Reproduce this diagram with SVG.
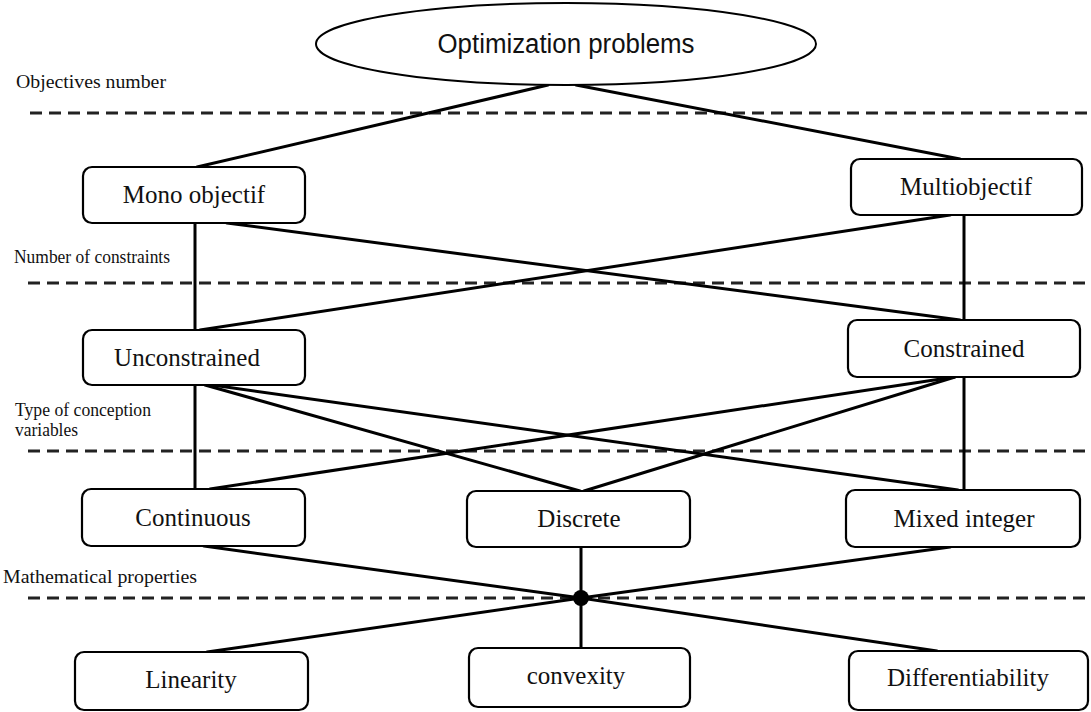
<svg xmlns="http://www.w3.org/2000/svg" width="1091" height="712" viewBox="0 0 1091 712">
<style>
.box{fill:#fff;stroke:#000;stroke-width:2.2}
.lbl{font-family:"Liberation Serif","Times New Roman",serif;font-size:25px;fill:#111;text-anchor:middle}
.side{font-family:"Liberation Serif","Times New Roman",serif;font-size:18px;fill:#111}
.dash{stroke:#222;stroke-width:3;stroke-dasharray:12 7;fill:none}
.con{stroke:#000;stroke-width:3;fill:none;stroke-linecap:round}
</style>
<rect width="1091" height="712" fill="#fff"/>
<g id="separators">
<line class="dash" x1="30" y1="113" x2="1091" y2="113"/>
<line class="dash" x1="28" y1="283" x2="1091" y2="283"/>
<line class="dash" x1="28" y1="451" x2="1091" y2="451"/>
<line class="dash" x1="28" y1="598" x2="1091" y2="598"/>
</g>
<g id="side-labels">
<text class="side" x="16" y="88" textLength="150" lengthAdjust="spacingAndGlyphs">Objectives number</text>
<text class="side" x="14" y="263" textLength="156" lengthAdjust="spacingAndGlyphs">Number of constraints</text>
<text class="side" x="15" y="416" textLength="136" lengthAdjust="spacingAndGlyphs">Type of conception</text>
<text class="side" x="15" y="436" textLength="63" lengthAdjust="spacingAndGlyphs">variables</text>
<text class="side" x="3" y="583" textLength="194" lengthAdjust="spacingAndGlyphs">Mathematical properties</text>
</g>
<g id="connectors">
<line class="con" x1="548" y1="85" x2="197" y2="167"/>
<line class="con" x1="576" y1="85" x2="960" y2="159"/>
<line class="con" x1="227" y1="223" x2="960" y2="320"/>
<line class="con" x1="200" y1="330" x2="950" y2="215"/>
<line class="con" x1="195" y1="223" x2="195" y2="330"/>
<line class="con" x1="964" y1="215" x2="964" y2="320"/>
<line class="con" x1="205" y1="385" x2="580" y2="491"/>
<line class="con" x1="212" y1="385" x2="958" y2="490"/>
<line class="con" x1="195" y1="385" x2="195" y2="489"/>
<line class="con" x1="954" y1="377" x2="210" y2="489"/>
<line class="con" x1="955" y1="377" x2="584" y2="491"/>
<line class="con" x1="964" y1="377" x2="964" y2="490"/>
<line class="con" x1="204" y1="546" x2="581" y2="598"/>
<line class="con" x1="950" y1="547" x2="581" y2="598"/>
<line class="con" x1="581" y1="547" x2="581" y2="648"/>
<line class="con" x1="581" y1="598" x2="207" y2="652"/>
<line class="con" x1="581" y1="598" x2="937" y2="651"/>
<circle cx="581" cy="598" r="8" fill="#000"/>
</g>
<g id="root">
<ellipse cx="566" cy="44" rx="250" ry="41" fill="#fff" stroke="#000" stroke-width="2"/>
<text x="566" y="53" font-family="Liberation Sans, Arial, sans-serif" font-size="27" fill="#111" text-anchor="middle" textLength="257" lengthAdjust="spacingAndGlyphs">Optimization problems</text>
</g>
<g id="mono"><rect class="box" x="83" y="167" width="222" height="56" rx="9"/><text class="lbl" x="194" y="203">Mono objectif</text></g>
<g id="multi"><rect class="box" x="851" y="159" width="231" height="56" rx="9"/><text class="lbl" x="966" y="195">Multiobjectif</text></g>
<g id="unconstrained"><rect class="box" x="83" y="330" width="222" height="55" rx="9"/><text class="lbl" x="187" y="366">Unconstrained</text></g>
<g id="constrained"><rect class="box" x="848" y="320" width="232" height="57" rx="9"/><text class="lbl" x="964" y="357">Constrained</text></g>
<g id="continuous"><rect class="box" x="82" y="489" width="223" height="57" rx="9"/><text class="lbl" x="193" y="526">Continuous</text></g>
<g id="discrete"><rect class="box" x="467" y="491" width="223" height="56" rx="9"/><text class="lbl" x="579" y="527">Discrete</text></g>
<g id="mixed"><rect class="box" x="846" y="490" width="234" height="57" rx="9"/><text class="lbl" x="964" y="527">Mixed integer</text></g>
<g id="linearity"><rect class="box" x="75" y="652" width="233" height="58" rx="9"/><text class="lbl" x="191" y="688">Linearity</text></g>
<g id="convexity"><rect class="box" x="469" y="648" width="221" height="59" rx="9"/><text class="lbl" x="576" y="684">convexity</text></g>
<g id="differentiability"><rect class="box" x="849" y="651" width="239" height="59" rx="9"/><text class="lbl" x="968" y="686">Differentiability</text></g>
</svg>
